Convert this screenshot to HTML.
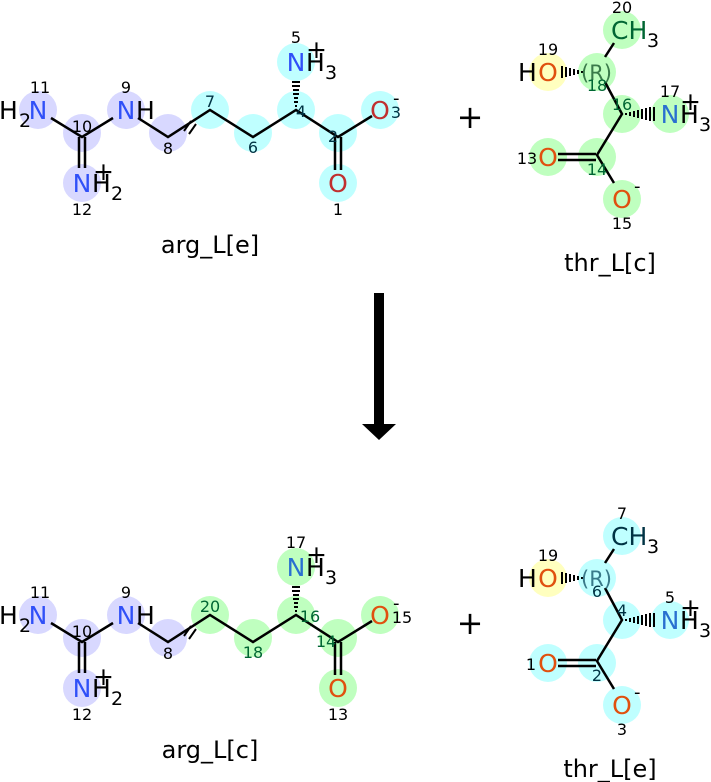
<!DOCTYPE html><html><head><style>body{margin:0;background:#fff}svg{display:block}text{font-family:"DejaVu Sans","Liberation Sans",sans-serif}</style></head><body>
<svg width="711" height="782" viewBox="0 0 711 782" xmlns="http://www.w3.org/2000/svg">
<!-- TOP ARG -->
<g>
<g fill="#d8d8ff"><circle cx="38" cy="110" r="19"/><circle cx="82" cy="133" r="19"/><circle cx="82" cy="183" r="19"/><circle cx="126" cy="110" r="19"/><circle cx="168" cy="133" r="19"/></g>
<g fill="#bfffff"><circle cx="210" cy="110" r="19"/><circle cx="253" cy="133" r="19"/><circle cx="296" cy="110" r="19"/><circle cx="296" cy="62" r="19"/><circle cx="338" cy="133" r="19"/><circle cx="380" cy="110" r="19"/><circle cx="338" cy="183" r="19"/></g>
<g stroke="#000" stroke-width="2.5" fill="none"><path d="M51 118L82 137L113 118M138 118L168 137L210 110L253 137L296 110L338 137L372 116M79 137V168M85 137V168M335 137V170M341 137V170"/><path d="M184 131L191 121M189 134L196 124" stroke-width="2"/></g>
<path d="M295 106h2M294 102h4M294 98h4M293 94h6M293 90h6M292 86h8M292 82h8" stroke="#000" stroke-width="2"/>
<g font-size="25"><text x="-1" y="119">H</text><text x="19" y="127" font-size="19">2</text><text x="38" y="119" fill="#3050f8" text-anchor="middle">N</text><text x="126" y="119" fill="#3050f8" text-anchor="middle">N</text><text x="136" y="119">H</text><text x="82" y="192" fill="#3050f8" text-anchor="middle">N</text><text x="92" y="192">H</text><text x="111" y="200" font-size="19">2</text><text x="93" y="180">+</text><text x="296" y="71" fill="#3050f8" text-anchor="middle">N</text><text x="306" y="71">H</text><text x="325" y="79" font-size="19">3</text><text x="306" y="58">+</text><text x="380" y="119" fill="#c03030" text-anchor="middle">O</text><text x="338" y="192" fill="#c03030" text-anchor="middle">O</text><text x="393" y="104" font-size="18">-</text></g>
<g font-size="16" text-anchor="middle" fill="#000"><text x="40" y="93">11</text><text x="82" y="132">10</text><text x="126" y="93">9</text><text x="168" y="154">8</text><text x="210" y="107" fill="#034">7</text><text x="253" y="153" fill="#034">6</text><text x="301" y="117" fill="#034">4</text><text x="296" y="43">5</text><text x="333" y="142" fill="#034">2</text><text x="396" y="118" fill="#034">3</text><text x="338" y="215">1</text><text x="82" y="215">12</text></g>
<text x="210" y="253" font-size="24" text-anchor="middle">arg_L[e]</text>
</g>
<text x="470" y="128" font-size="32" text-anchor="middle">+</text>
<!-- TOP THR -->
<g>
<g fill="#bfffbf"><circle cx="622" cy="30" r="19"/><circle cx="597" cy="72" r="19"/><circle cx="622" cy="114" r="19"/><circle cx="670" cy="114" r="19"/><circle cx="597" cy="157" r="19"/><circle cx="548" cy="157" r="19"/><circle cx="622" cy="199" r="19"/></g>
<circle cx="548" cy="72" r="19" fill="#ffffbf"/>
<g stroke="#000" stroke-width="2.5" fill="none"><path d="M614 43L605 57M605 82L622 114L597 155L614 183M558 154H596M558 160H596"/></g>
<path d="M582 71v2M578 70v4M574 69v6M570 68v8M566 67v10M562 66v12" stroke="#000" stroke-width="2"/>
<path d="M626 113v2M630 112v4M634 111v6M638 110v8M642 109v10M646 108v12M650 107v14M654 107v14" stroke="#000" stroke-width="2"/>
<g font-size="25"><text x="611" y="39" fill="#063">CH</text><text x="647" y="47" font-size="19">3</text><text x="518" y="81">H</text><text x="548" y="81" fill="#e0500f" text-anchor="middle">O</text><text x="581" y="80" font-size="21" fill="#3a7a4a">(R)</text><text x="670" y="123" fill="#2a70d0" text-anchor="middle">N</text><text x="680" y="123">H</text><text x="699" y="131" font-size="19">3</text><text x="680" y="110">+</text><text x="548" y="166" fill="#e0500f" text-anchor="middle">O</text><text x="622" y="208" fill="#e0500f" text-anchor="middle">O</text><text x="634" y="192" font-size="18">-</text></g>
<g font-size="16" text-anchor="middle"><text x="622" y="13">20</text><text x="548" y="55">19</text><text x="597" y="91" fill="#063">18</text><text x="622" y="110" fill="#063">16</text><text x="670" y="97">17</text><text x="527" y="164">13</text><text x="597" y="175" fill="#063">14</text><text x="622" y="229">15</text></g>
<text x="610" y="271" font-size="24" text-anchor="middle">thr_L[c]</text>
</g>
<!-- ARROW -->
<rect x="374" y="293" width="10" height="133" fill="#000"/>
<polygon points="362,424 396,424 379,440" fill="#000"/>
<!-- BOTTOM ARG -->
<g transform="translate(0,505)">
<g fill="#d8d8ff"><circle cx="38" cy="110" r="19"/><circle cx="82" cy="133" r="19"/><circle cx="82" cy="183" r="19"/><circle cx="126" cy="110" r="19"/><circle cx="168" cy="133" r="19"/></g>
<g fill="#bfffbf"><circle cx="210" cy="110" r="19"/><circle cx="253" cy="133" r="19"/><circle cx="296" cy="110" r="19"/><circle cx="296" cy="62" r="19"/><circle cx="338" cy="133" r="19"/><circle cx="380" cy="110" r="19"/><circle cx="338" cy="183" r="19"/></g>
<g stroke="#000" stroke-width="2.5" fill="none"><path d="M51 118L82 137L113 118M138 118L168 137L210 110L253 137L296 110L338 137L372 116M79 137V168M85 137V168M335 137V170M341 137V170"/><path d="M184 131L191 121M189 134L196 124" stroke-width="2"/></g>
<path d="M295 106h2M294 102h4M294 98h4M293 94h6M293 90h6M292 86h8M292 82h8" stroke="#000" stroke-width="2"/>
<g font-size="25"><text x="-1" y="119">H</text><text x="19" y="127" font-size="19">2</text><text x="38" y="119" fill="#3050f8" text-anchor="middle">N</text><text x="126" y="119" fill="#3050f8" text-anchor="middle">N</text><text x="136" y="119">H</text><text x="82" y="192" fill="#3050f8" text-anchor="middle">N</text><text x="92" y="192">H</text><text x="111" y="200" font-size="19">2</text><text x="93" y="180">+</text><text x="296" y="71" fill="#2a70d0" text-anchor="middle">N</text><text x="306" y="71">H</text><text x="325" y="79" font-size="19">3</text><text x="306" y="58">+</text><text x="380" y="119" fill="#e0500f" text-anchor="middle">O</text><text x="338" y="192" fill="#e0500f" text-anchor="middle">O</text><text x="393" y="104" font-size="18">-</text></g>
<g font-size="16" text-anchor="middle"><text x="40" y="93">11</text><text x="82" y="132">10</text><text x="126" y="93">9</text><text x="168" y="154">8</text><text x="210" y="107" fill="#063">20</text><text x="253" y="153" fill="#063">18</text><text x="310" y="117" fill="#063">16</text><text x="296" y="43">17</text><text x="326" y="142" fill="#063">14</text><text x="402" y="118">15</text><text x="338" y="215">13</text><text x="82" y="215">12</text></g>
<text x="210" y="253" font-size="24" text-anchor="middle">arg_L[c]</text>
</g>
<text x="470" y="634" font-size="32" text-anchor="middle">+</text>
<!-- BOTTOM THR -->
<g transform="translate(0,506)">
<g fill="#bfffff"><circle cx="622" cy="30" r="19"/><circle cx="597" cy="72" r="19"/><circle cx="622" cy="114" r="19"/><circle cx="670" cy="114" r="19"/><circle cx="597" cy="157" r="19"/><circle cx="548" cy="157" r="19"/><circle cx="622" cy="199" r="19"/></g>
<circle cx="548" cy="72" r="19" fill="#ffffbf"/>
<g stroke="#000" stroke-width="2.5" fill="none"><path d="M614 43L605 57M605 82L622 114L597 155L614 183M558 154H596M558 160H596"/></g>
<path d="M582 71v2M578 70v4M574 69v6M570 68v8M566 67v10M562 66v12" stroke="#000" stroke-width="2"/>
<path d="M626 113v2M630 112v4M634 111v6M638 110v8M642 109v10M646 108v12M650 107v14M654 107v14" stroke="#000" stroke-width="2"/>
<g font-size="25"><text x="611" y="39" fill="#034">CH</text><text x="647" y="47" font-size="19">3</text><text x="518" y="81">H</text><text x="548" y="81" fill="#e0500f" text-anchor="middle">O</text><text x="581" y="80" font-size="21" fill="#3a7a8a">(R)</text><text x="670" y="123" fill="#2a70d0" text-anchor="middle">N</text><text x="680" y="123">H</text><text x="699" y="131" font-size="19">3</text><text x="680" y="110">+</text><text x="548" y="166" fill="#e0500f" text-anchor="middle">O</text><text x="622" y="208" fill="#e0500f" text-anchor="middle">O</text><text x="634" y="192" font-size="18">-</text></g>
<g font-size="16" text-anchor="middle"><text x="622" y="13">7</text><text x="548" y="55">19</text><text x="597" y="91" fill="#034">6</text><text x="622" y="110" fill="#034">4</text><text x="670" y="97">5</text><text x="531" y="164">1</text><text x="597" y="175" fill="#034">2</text><text x="622" y="229">3</text></g>
<text x="610" y="271" font-size="24" text-anchor="middle">thr_L[e]</text>
</g>
</svg>
</body></html>
